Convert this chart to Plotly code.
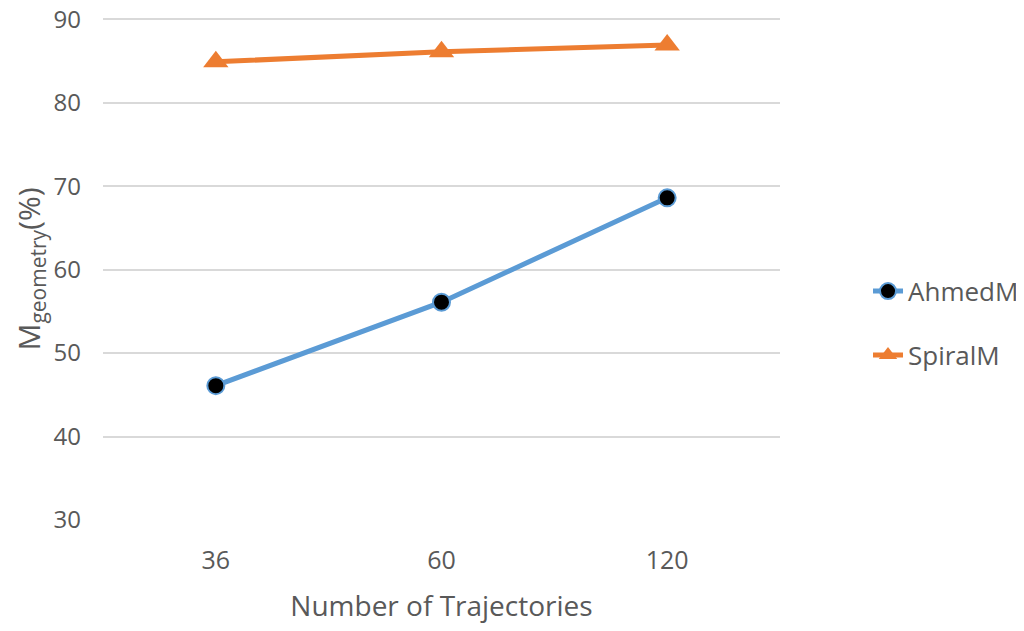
import plotly.graph_objects as go

categories = ["36", "60", "120"]
ahmed = [46.1, 56.1, 68.6]
spiral = [84.9, 86.1, 86.9]
y_ticks = [30, 40, 50, 60, 70, 80, 90]

TXT = "#595959"

fig = go.Figure()
fig.add_trace(go.Scatter(
    x=categories, y=ahmed, name="AhmedM", mode="lines+markers",
    line=dict(color="#5B9BD5", width=5),
    marker=dict(symbol="circle", size=17, color="black", line=dict(color="#5B9BD5", width=2)),
    legendgroup="a",
))
fig.add_trace(go.Scatter(
    x=categories, y=spiral, name="SpiralM", mode="lines+markers",
    line=dict(color="#ED7D31", width=5),
    marker=dict(symbol="triangle-up", size=22, color="#ED7D31"),
    legendgroup="b",
))

fig.update_layout(
    width=1024, height=631,
    margin=dict(l=95, r=252, t=10, b=119, autoexpand=False),
    paper_bgcolor="white", plot_bgcolor="white",
    font=dict(family="Open Sans, sans-serif", color=TXT, size=25),
    legend=dict(x=1.13, xanchor="left", y=0.392, yanchor="middle",
                font=dict(size=26, color=TXT), tracegroupgap=27,
                traceorder="grouped"),
    xaxis=dict(type="category", range=[-0.5, 2.5], showgrid=False, showline=False,
               ticks="", tickfont=dict(size=25, color=TXT), ticklabelstandoff=23,
               automargin=True,
               title=dict(text="Number of Trajectories", font=dict(size=28, color=TXT), standoff=21)),
    yaxis=dict(range=[30, 90.15], tickvals=y_ticks, showgrid=True, gridcolor="#D9D9D9", gridwidth=2,
               zeroline=False, showline=False, ticks="", tickfont=dict(size=24, color=TXT),
               ticklabelstandoff=21, automargin=True, ticklabeloverflow="allow",
               title=dict(text="M<sub>geometry</sub>(%)", font=dict(size=30, color=TXT), standoff=11)),
)

fig.write_html("out.html")
